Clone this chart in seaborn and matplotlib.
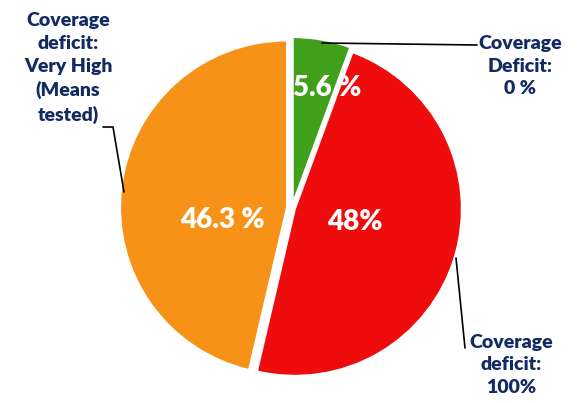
import seaborn as sns
import matplotlib.pyplot as plt

# slice data (clockwise from 12 o'clock)
segments = ["Coverage Deficit: 0 %", "Coverage deficit: 100%",
            "Coverage deficit: Very High (Means tested)"]
shares = [5.6, 48.0, 46.3]
inner_labels = ["5.6 %", "48%", "46.3 %"]
outer_labels = ["Coverage\nDeficit:\n0 %", "Coverage\ndeficit:\n100%",
                "Coverage\ndeficit:\nVery High\n(Means\ntested)"]
colors = ["#40A01C", "#EE0C0C", "#F79218"]

sns.set_theme(style="white")
plt.rcParams['font.family'] = ['Lato', 'DejaVu Sans']
navy = "#132B63"

fig = plt.figure(figsize=(5.77, 4.03), dpi=100)
ax = fig.add_axes([0, 0, 1, 1])

# work in pixel units, y measured upward
cx, cy, r = 292, 403 - 208, 167
wedges, _ = ax.pie(shares, colors=colors, startangle=90, counterclock=False,
                   radius=r, center=(cx, cy), explode=[4, 3, 5],
                   wedgeprops=dict(edgecolor="white", linewidth=1.5))
ax.set_xlim(0, 577)
ax.set_ylim(0, 403)
ax.set_aspect("equal")
ax.axis("off")

# values inside the slices
inner_pos = [(327, 88), (355, 222), (222, 220)]
for lab, (x, y) in zip(inner_labels, inner_pos):
    ax.text(x, 403 - y, lab, color="white", fontsize=20, fontweight="heavy",
            ha="center", va="center")

# callout labels
outer_pos = [(520, 66), (511, 365), (68, 68)]
for lab, (x, y) in zip(outer_labels, outer_pos):
    ax.text(x, 403 - y, lab, color=navy, fontsize=14, fontweight="heavy",
            ha="center", va="center", linespacing=1.42)

# leader lines
leaders = [
    [(322, 43), (477, 45)],
    [(456, 258), (465, 348)],
    [(103, 127), (113, 127), (124, 192)],
]
for pts in leaders:
    xs = [p[0] for p in pts]
    ys = [403 - p[1] for p in pts]
    ax.plot(xs, ys, color="black", linewidth=1.2)

fig.savefig("out.png", dpi=100)
